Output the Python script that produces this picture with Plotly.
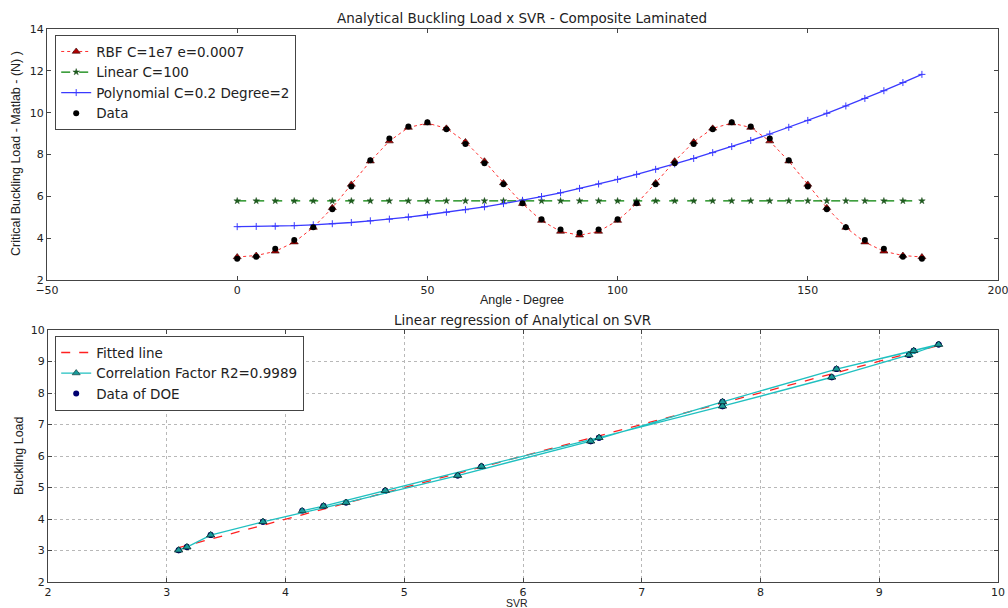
import plotly.graph_objects as go

# ---------------- data ----------------
angles = list(range(0, 181, 5))

# RBF SVR prediction (red triangles)
rbf = [3.10, 3.17, 3.37, 3.81, 4.51, 5.45, 6.57, 7.68, 8.64, 9.29, 9.50, 9.25, 8.60,
       7.68, 6.64, 5.65, 4.84, 4.32, 4.14, 4.32, 4.84, 5.65, 6.64, 7.68, 8.60, 9.25,
       9.50, 9.29, 8.64, 7.68, 6.57, 5.45, 4.51, 3.81, 3.37, 3.17, 3.10]

# analytical data (black dots)
data = [3.01, 3.11, 3.49, 3.91, 4.52, 5.38, 6.47, 7.72, 8.76, 9.34, 9.54, 9.21, 8.50,
        7.58, 6.58, 5.67, 4.90, 4.41, 4.26, 4.41, 4.90, 5.67, 6.58, 7.58, 8.50, 9.21,
        9.54, 9.34, 8.76, 7.72, 6.47, 5.38, 4.52, 3.91, 3.49, 3.11, 3.01]

# linear kernel prediction (green stars)
linear = [5.78] * 37

# polynomial kernel prediction (blue +)
poly = [4.55, 4.56, 4.57, 4.60, 4.64, 4.69, 4.75, 4.83, 4.91, 5.01, 5.12, 5.24, 5.36,
        5.50, 5.65, 5.81, 5.99, 6.17, 6.38, 6.59, 6.81, 7.05, 7.29, 7.55, 7.81, 8.09,
        8.38, 8.67, 8.98, 9.30, 9.63, 9.97, 10.32, 10.68, 11.05, 11.44, 11.83]

# fitted regression line endpoints (bottom panel)
fit_x = [3.10, 9.50]
fit_y = [3.09, 9.51]

top_xticks = [-50, 0, 50, 100, 150, 200]
top_yticks = [2, 4, 6, 8, 10, 12, 14]
bot_ticks = [2, 3, 4, 5, 6, 7, 8, 9, 10]

# ---------------- figure ----------------
W, H = 1008, 608
FONT = "DejaVu Sans"
LAB = "Liberation Sans"
AX = "#444444"
TXT = "#222222"


def px(v):
    return v / W


def py(v):
    return 1 - v / H


fig = go.Figure()

# top panel
fig.add_trace(go.Scatter(
    x=angles, y=rbf, name="RBF C=1e7 e=0.0007", mode="lines+markers",
    line=dict(color="#ff3030", width=1, dash="dot"),
    marker=dict(symbol="triangle-up", size=7, color="#b00000",
                line=dict(color="#300000", width=0.6)),
    xaxis="x", yaxis="y", legend="legend"))
fig.add_trace(go.Scatter(
    x=angles, y=linear, name="Linear C=100", mode="lines+markers",
    line=dict(color="#008000", width=1.2, dash="dash"),
    marker=dict(symbol="star", size=5, color="#1f5f1f",
                line=dict(color="#0a3a0a", width=0.4)),
    xaxis="x", yaxis="y", legend="legend"))
fig.add_trace(go.Scatter(
    x=angles, y=poly, name="Polynomial C=0.2 Degree=2", mode="lines+markers",
    line=dict(color="#3a3aff", width=1.3),
    marker=dict(symbol="cross-thin", size=5, color="#3a3aff",
                line=dict(color="#3a3aff", width=1)),
    xaxis="x", yaxis="y", legend="legend"))
fig.add_trace(go.Scatter(
    x=angles, y=data, name="Data", mode="markers",
    marker=dict(symbol="circle", size=6, color="black"),
    xaxis="x", yaxis="y", legend="legend"))

# bottom panel
fig.add_trace(go.Scatter(
    x=fit_x, y=fit_y, name="Fitted line", mode="lines",
    line=dict(color="#ff2020", width=1.3, dash="dash"),
    xaxis="x2", yaxis="y2", legend="legend2", legendrank=1))
fig.add_trace(go.Scatter(
    x=rbf, y=data, name="Data of DOE", mode="markers",
    marker=dict(symbol="circle", size=6, color="#000070"),
    xaxis="x2", yaxis="y2", legend="legend2", legendrank=3))
fig.add_trace(go.Scatter(
    x=rbf, y=data, name="Correlation Factor R2=0.9989", mode="lines+markers",
    line=dict(color="#20c0c0", width=1.3),
    marker=dict(symbol="triangle-up", size=7, color="#1a9a9a",
                line=dict(color="#0a2a2a", width=0.6)),
    xaxis="x2", yaxis="y2", legend="legend2", legendrank=2))

axis_common = dict(
    showline=True, linecolor=AX, linewidth=1.2, mirror="ticks",
    ticks="inside", ticklen=4, tickcolor=AX, tickwidth=1, automargin=False,
    ticklabeloverflow="allow",
    zeroline=False, tickfont=dict(family=FONT, size=11, color=TXT),
)

legend_common = dict(
    xanchor="left", yanchor="top", bgcolor="white", bordercolor=AX,
    borderwidth=1.2, font=dict(family=FONT, size=13.5, color=TXT),
    itemwidth=30, tracegroupgap=0,
)


def ann(text, x, y, size, family=FONT, angle=0):
    return dict(text=text, x=px(x), y=py(y), xref="paper", yref="paper",
                showarrow=False, textangle=angle, xanchor="center",
                yanchor="middle", font=dict(family=family, size=size, color=TXT))


fig.update_layout(
    width=W, height=H,
    margin=dict(l=0, r=0, t=0, b=0),
    paper_bgcolor="white", plot_bgcolor="white",
    showlegend=True,
    xaxis=dict(domain=[px(47), px(998)], anchor="y", range=[-50, 200],
               tickvals=top_xticks, showgrid=False, **axis_common),
    yaxis=dict(domain=[py(280), py(29)], anchor="x", range=[2, 14],
               tickvals=top_yticks, showgrid=False, **axis_common),
    xaxis2=dict(domain=[px(48), px(998)], anchor="y2", range=[2, 10],
                tickvals=bot_ticks, showgrid=True, gridcolor="#b8b8b8",
                griddash="dot", gridwidth=1, **axis_common),
    yaxis2=dict(domain=[py(582), py(330)], anchor="x2", range=[2, 10],
                tickvals=bot_ticks, showgrid=True, gridcolor="#b8b8b8",
                griddash="dot", gridwidth=1, **axis_common),
    legend=dict(x=px(55), y=py(35), **legend_common),
    legend2=dict(x=px(55), y=py(336), **legend_common),
    annotations=[
        ann("Analytical Buckling Load x SVR - Composite Laminated", 522, 18, 13.5),
        ann("Angle - Degree", 522, 300, 12.5, LAB),
        ann("Linear regression of Analytical on SVR", 522, 320, 13.5),
        ann("SVR", 517, 602.5, 10.5, LAB),
        ann("Critical Buckling Load - Matlab - (N) )", 16, 154, 12.5, LAB, -90),
        ann("Buckling Load", 19, 456, 12.5, LAB, -90),
    ],
)

fig.write_html("out.html")
